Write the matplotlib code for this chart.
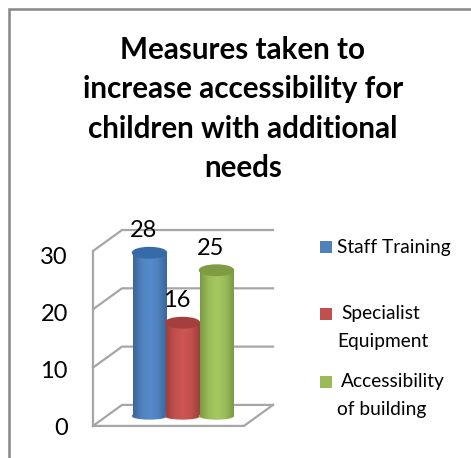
import matplotlib
matplotlib.use('Agg')
import matplotlib.pyplot as plt
import numpy as np
from matplotlib.colors import LinearSegmentedColormap
from matplotlib.patches import Ellipse, Rectangle

categories = ['Staff Training', 'Specialist\nEquipment', 'Accessibility\nof building']
values = [28, 16, 25]
y_ticks = [0, 10, 20, 30]
title = 'Measures taken to\nincrease accessibility for\nchildren with additional\nneeds'

colors = ['#4F81BD', '#C0504D', '#9BBB59']
dark = ['#3A659C', '#9E3F3C', '#7C9A45']
light = ['#558BCB', '#CE5653', '#A6C860']
top = ['#376BA8', '#A33F3D', '#7F9C43']

W, H = 471, 458
BASE_PX = 416
PX_PER_UNIT = 5.83
BACK_OFF = 1.9    # floor of the back wall, in data units above the bar base
FRONT_OFF = -1.7  # floor of the front edge
GRID = '#A6A6A6'
FONT = 'Lato'

plt.rcParams['font.family'] = FONT

fig = plt.figure(figsize=(W / 100, H / 100), dpi=100)
ax = fig.add_axes([0, 0, 1, 1])
ax.set_xlim(0, W)
ax.set_ylim((BASE_PX - H) / PX_PER_UNIT, BASE_PX / PX_PER_UNIT)
ax.axis('off')

# walls and floor
for v in y_ticks:
    ax.plot([93, 122, 273], [v + FRONT_OFF, v + BACK_OFF, v + BACK_OFF], color=GRID, lw=1.6, zorder=1)
ax.plot([93, 93], [y_ticks[0] + FRONT_OFF, y_ticks[-1] + FRONT_OFF], color=GRID, lw=1.6, zorder=1)
ax.plot([93, 244, 273], [y_ticks[0] + FRONT_OFF, y_ticks[0] + FRONT_OFF, y_ticks[0] + BACK_OFF], color=GRID, lw=1.6, zorder=1)

for v in y_ticks:
    ax.text(68, v * 0.978 + FRONT_OFF - 0.5, str(v), ha='right', va='center', fontsize=17, color='black')

# cylinders
centers = [149.5, 182.5, 216.5]
width = 34
ell_h = 1.8
base_h = 1.0
for i, (x, v) in enumerate(zip(centers, values)):
    cmap = LinearSegmentedColormap.from_list('c', [dark[i], colors[i], light[i], colors[i], dark[i]])
    grad = np.linspace(0, 1, 64).reshape(1, -1)
    z = 2 + i
    bar = ax.bar(x, v, width=width, color=colors[i], zorder=z)[0]
    im = ax.imshow(grad, cmap=cmap, extent=[x - width / 2, x + width / 2, -ell_h, v], aspect='auto', zorder=z + 0.1)
    im.set_clip_path(bar)
    bottom = Ellipse((x, 0), width, base_h, color=colors[i], zorder=z)
    ax.add_patch(bottom)
    im2 = ax.imshow(grad, cmap=cmap, extent=[x - width / 2, x + width / 2, -ell_h, v], aspect='auto', zorder=z + 0.1)
    im2.set_clip_path(bottom)
    ax.add_patch(Ellipse((x, v), width, ell_h, color=top[i], zorder=z + 0.2))
    ax.text(x - 6, v + 3.75, str(v), ha='center', va='center', fontsize=17, color='black', zorder=10)
ax.set_xlim(0, W)
ax.set_ylim((BASE_PX - H) / PX_PER_UNIT, BASE_PX / PX_PER_UNIT)

# title, legend and border are laid out in pixels
ov = fig.add_axes([0, 0, 1, 1])
ov.set_xlim(0, W)
ov.set_ylim(H, 0)
ov.axis('off')
ov.patch.set_alpha(0)

ov.text(243, 109, title, ha='center', va='center', fontsize=21.3, fontweight='bold',
        color='black', linespacing=1.5)

legend_y = [247, 314, 382]
for name, c, ly in zip(categories, colors, legend_y):
    ov.add_patch(Rectangle((320, ly - 6), 12, 12, color=c, lw=0))
    parts = name.split('\n')
    if len(parts) == 1:
        ov.text(337, ly, parts[0], ha='left', va='center', fontsize=13.8, color='black')
    else:
        ov.text(341, ly, parts[0], ha='left', va='center', fontsize=13.8, color='black')
        ov.text(337, ly + 27, parts[1], ha='left', va='center', fontsize=13.8, color='black')

ov.plot([W, 8.5, 8.5], [8.5, 8.5, H], color='#868686', lw=1.8, solid_joinstyle='miter')

fig.savefig('out.png', dpi=100)
plt.close(fig)
